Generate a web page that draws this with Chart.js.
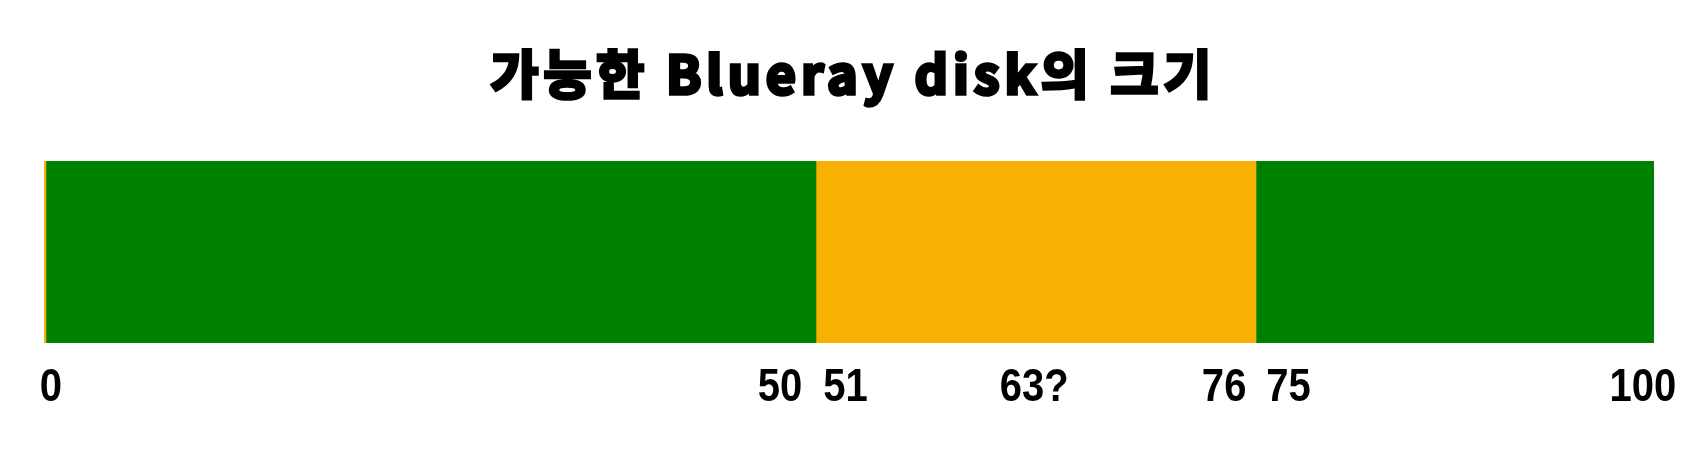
<!DOCTYPE html>
<html>
<head>
<meta charset="utf-8">
<script src="https://cdn.jsdelivr.net/npm/chart.js@4/dist/chart.umd.min.js"></script>
<style>
  html, body { margin: 0; padding: 0; background: #ffffff; }
  #wrap { width: 1704px; height: 458px; position: relative; }
</style>
</head>
<body>
<div id="wrap"><canvas id="c" width="1704" height="458"></canvas></div>
<script>
// ---- data ----
const titleText = "가능한 Blueray disk의 크기";
const categories = [""];
const segmentValues = [0.12, 47.83, 27.33, 24.72];
const tickLabels = ["0", "50", "51", "63?", "76", "75", "100"];
const tickValues = [0, 47.95, 47.95, 61.6, 75.28, 75.28, 100];

// ---- style ----
const segmentColors = ["#F8B102", "#008000", "#F8B102", "#008000"];
const tickAlign = ["left", "right", "left", "center", "right", "left", "right"];
const tickOffset = [-3.3, -15, 8, -2, -11, 11, 21];
const tickFont = "bold 46px 'Liberation Sans', Arial, sans-serif";
const tickScaleX = 0.87;
const titleFont = "bold 52px 'Noto Sans CJK KR', sans-serif";

const datasets = segmentValues.map((v, i) => ({
  data: [v],
  backgroundColor: segmentColors[i],
  borderWidth: 0,
  barPercentage: 1,
  categoryPercentage: 1
}));

const textPlugin = {
  id: 'texts',
  afterDraw(chart) {
    const ctx = chart.ctx;
    const xs = chart.scales.x;
    ctx.save();
    ctx.fillStyle = '#000';
    ctx.strokeStyle = '#000';
    // title
    ctx.font = titleFont;
    try { ctx.letterSpacing = "5px"; } catch (e) {}
    ctx.textAlign = 'left';
    ctx.textBaseline = 'alphabetic';
    const tm = ctx.measureText(titleText);
    const hm = ctx.measureText("가능한");
    const tx = 849 - (tm.actualBoundingBoxRight - tm.actualBoundingBoxLeft) / 2;
    const ty = 99.2 - hm.actualBoundingBoxDescent;
    ctx.lineWidth = 3.5;
    ctx.lineJoin = 'miter';
    ctx.fillText(titleText, tx, ty);
    ctx.strokeText(titleText, tx, ty);
    try { ctx.letterSpacing = "0px"; } catch (e) {}
    // ticks
    ctx.font = tickFont;
    tickLabels.forEach((lab, i) => {
      const p = xs.getPixelForValue(tickValues[i]) + tickOffset[i];
      const m = ctx.measureText(lab);
      const l = m.actualBoundingBoxLeft * tickScaleX;
      const r = m.actualBoundingBoxRight * tickScaleX;
      let x;
      if (tickAlign[i] === 'left') x = p + l;
      else if (tickAlign[i] === 'right') x = p - r;
      else x = p - (r - l) / 2;
      ctx.save();
      ctx.translate(x, 401);
      ctx.scale(tickScaleX, 1);
      ctx.fillText(lab, 0, 0);
      ctx.restore();
    });
    ctx.restore();
  }
};

new Chart(document.getElementById('c'), {
  type: 'bar',
  data: { labels: categories, datasets },
  options: {
    indexAxis: 'y',
    responsive: false,
    animation: false,
    devicePixelRatio: 1,
    layout: { padding: { left: 44, right: 50, top: 161, bottom: 115 } },
    scales: {
      x: { stacked: true, min: 0, max: 100, display: false },
      y: { stacked: true, display: false }
    },
    plugins: { legend: { display: false }, title: { display: false }, tooltip: { enabled: false } }
  },
  plugins: [textPlugin]
});
</script>
</body>
</html>
